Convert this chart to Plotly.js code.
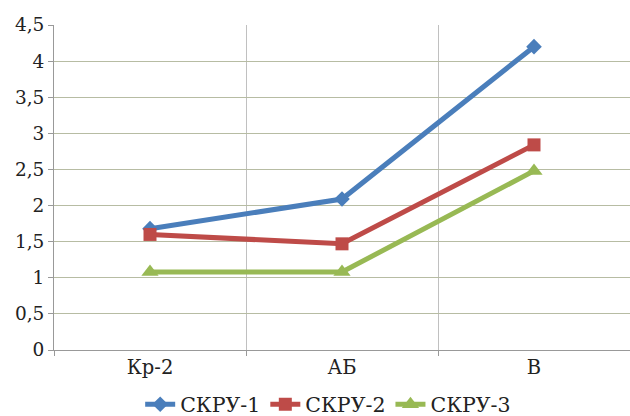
<!DOCTYPE html>
<html><head><meta charset="utf-8">
<script src="https://cdn.plot.ly/plotly-3.0.1.min.js"></script>
<style>html,body{margin:0;padding:0;background:#fff}#chart{width:630px;height:416px}</style>
</head><body><div id="chart"></div>
<script>
const categories = ["Кр-2", "АБ", "В"];
const skru1 = [1.68, 2.09, 4.2];
const skru2 = [1.6, 1.47, 2.84];
const skru3 = [1.08, 1.08, 2.48];
const seriesNames = ["СКРУ-1", "СКРУ-2", "СКРУ-3"];
const yTickVals = [0, 0.5, 1, 1.5, 2, 2.5, 3, 3.5, 4, 4.5];
const yTickText = ["0", "0,5", "1", "1,5", "2", "2,5", "3", "3,5", "4", "4,5"];

function mkFont(s) { return {family: "DejaVu Serif", size: s, color: "#222"}; }
const traces = [
  {x: categories, y: skru1, name: seriesNames[0], type: "scatter", mode: "lines+markers",
   line: {color: "#4a7ebb", width: 5}, marker: {symbol: "diamond", size: 12, color: "#4a7ebb"}},
  {x: categories, y: skru2, name: seriesNames[1], type: "scatter", mode: "lines+markers",
   line: {color: "#be4b48", width: 5}, marker: {symbol: "square", size: 13, color: "#be4b48"}},
  {x: categories, y: skru3, name: seriesNames[2], type: "scatter", mode: "lines+markers",
   line: {color: "#98b954", width: 5}, marker: {symbol: "triangle-up", size: 15, color: "#98b954"}}
];
const layout = {
  width: 630, height: 416,
  margin: {l: 54, r: 0, t: 25, b: 66},
  paper_bgcolor: "#fff", plot_bgcolor: "#fff",
  font: mkFont(18),
  showlegend: true,
  legend: {orientation: "h", x: 0.476, xanchor: "center", yref: "container", y: 0.028, yanchor: "middle",
           font: mkFont(20.5), itemwidth: 30, tracegroupgap: 0},
  xaxis: {type: "category", range: [-0.5, 2.5], tickson: "boundaries",
          showgrid: true, gridcolor: "#c0c0c0", gridwidth: 1,
          ticks: "outside", ticklen: 5, tickcolor: "#999",
          showline: true, linecolor: "#999", linewidth: 1,
          tickfont: mkFont(19.5), fixedrange: true, automargin: false},
  yaxis: {range: [0, 4.5], tickvals: yTickVals, ticktext: yTickText,
          showgrid: true, gridcolor: "#b7bca3", gridwidth: 1, zeroline: false,
          ticks: "outside", ticklen: 5, tickcolor: "#999",
          showline: true, linecolor: "#999", linewidth: 1,
          tickfont: mkFont(18.5), fixedrange: true, automargin: false}
};
Plotly.newPlot("chart", traces, layout, {displayModeBar: false});
</script></body></html>
